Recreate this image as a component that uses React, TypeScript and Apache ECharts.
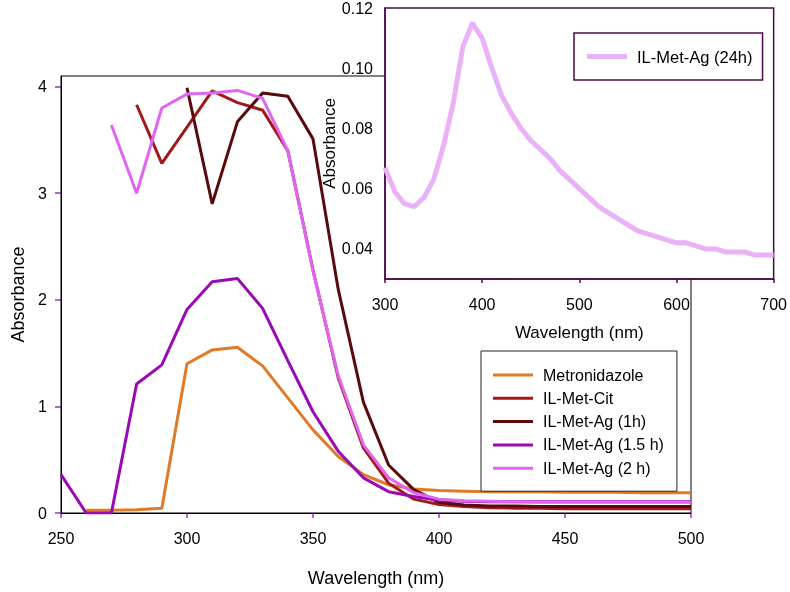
import React, { useEffect, useRef } from "react";
import * as echarts from "echarts";

// Main chart: wavelength (nm), 250..500 step 10
const wavelengths = [250, 260, 270, 280, 290, 300, 310, 320, 330, 340, 350, 360, 370, 380, 390, 400, 410, 420, 430, 440, 450, 460, 470, 480, 490, 500];

const metronidazole = [null, 0.025, 0.025, 0.03, 0.045, 1.40, 1.53, 1.555, 1.38, 1.08, 0.78, 0.53, 0.36, 0.265, 0.225, 0.21, 0.205, 0.2, 0.2, 0.2, 0.195, 0.195, 0.195, 0.19, 0.19, 0.19];
const ilMetCit = [null, null, null, 3.83, 3.28, 3.62, 3.96, 3.85, 3.78, 3.40, 2.28, 1.27, 0.61, 0.28, 0.13, 0.08, 0.06, 0.05, 0.045, 0.045, 0.04, 0.04, 0.04, 0.04, 0.04, 0.04];
const ilMetAg1h = [null, null, null, null, null, 3.99, 2.90, 3.67, 3.94, 3.91, 3.51, 2.10, 1.04, 0.45, 0.22, 0.10, 0.075, 0.065, 0.065, 0.06, 0.06, 0.06, 0.06, 0.06, 0.06, 0.06];
const ilMetAg15h = [0.36, 0, 0, 1.21, 1.39, 1.91, 2.17, 2.20, 1.92, 1.43, 0.95, 0.58, 0.33, 0.20, 0.155, 0.12, 0.11, 0.105, 0.105, 0.105, 0.105, 0.105, 0.105, 0.105, 0.105, 0.105];
const ilMetAg2h = [null, null, 3.64, 3.00, 3.80, 3.93, 3.94, 3.965, 3.89, 3.40, 2.27, 1.29, 0.64, 0.33, 0.19, 0.13, 0.115, 0.11, 0.105, 0.1, 0.1, 0.1, 0.1, 0.1, 0.1, 0.1];

const mainNames = ["Metronidazole", "IL-Met-Cit", "IL-Met-Ag (1h)", "IL-Met-Ag (1.5 h)", "IL-Met-Ag (2 h)"];
const mainColors = ["#E07A26", "#A01A1C", "#5A0A0C", "#9A0AB4", "#E066F2"];
const mainSeries = [metronidazole, ilMetCit, ilMetAg1h, ilMetAg15h, ilMetAg2h];
const mainYTicks = [0, 1, 2, 3, 4];

// Inset: 24 h, 300..700 step 10
const insetWavelengths = [300, 310, 320, 330, 340, 350, 360, 370, 380, 390, 400, 410, 420, 430, 440, 450, 460, 470, 480, 490, 500, 510, 520, 530, 540, 550, 560, 570, 580, 590, 600, 610, 620, 630, 640, 650, 660, 670, 680, 690, 700];
const ilMetAg24h = [0.067, 0.059, 0.055, 0.054, 0.057, 0.063, 0.074, 0.088, 0.107, 0.115, 0.110, 0.100, 0.091, 0.085, 0.080, 0.076, 0.073, 0.070, 0.066, 0.063, 0.060, 0.057, 0.054, 0.052, 0.050, 0.048, 0.046, 0.045, 0.044, 0.043, 0.042, 0.042, 0.041, 0.040, 0.040, 0.039, 0.039, 0.039, 0.038, 0.038, 0.038];
const insetName = "IL-Met-Ag (24h)";
const insetColor = "#E9B2F7";
const insetYTicks = [0.04, 0.06, 0.08, 0.10, 0.12];

const FONT = "'Liberation Sans', Arial, sans-serif";
const TICK_PURPLE = "#A030C8";
const INSET_FRAME = "#4A0A4C";

export default function App() {
  const ref = useRef<HTMLDivElement>(null);
  useEffect(() => {
    if (!ref.current) return;
    const chart = echarts.init(ref.current, undefined, { renderer: "svg" });

    const series: any[] = mainSeries.map((vals, i) => ({
      name: mainNames[i],
      type: "line",
      xAxisIndex: 0,
      yAxisIndex: 0,
      data: wavelengths.map((w, j) => [w, vals[j]]),
      showSymbol: false,
      symbol: "none",
      connectNulls: false,
      lineStyle: { color: mainColors[i], width: 3 },
      itemStyle: { color: mainColors[i] },
      z: 2,
    }));
    series.push({
      name: insetName,
      type: "line",
      xAxisIndex: 1,
      yAxisIndex: 1,
      data: insetWavelengths.map((w, j) => [w, ilMetAg24h[j]]),
      showSymbol: false,
      symbol: "none",
      lineStyle: { color: insetColor, width: 5 },
      itemStyle: { color: insetColor },
      z: 10,
    });

    chart.setOption({
      animation: false,
      textStyle: { fontFamily: FONT },
      grid: [
        { left: 61, right: 99, top: 76, bottom: 77, show: true, borderColor: "#000", borderWidth: 1, backgroundColor: "transparent", z: 1 },
        { left: 385, right: 16, top: 8, bottom: 313, show: true, borderColor: INSET_FRAME, borderWidth: 1.5, backgroundColor: "#fff", z: 5 },
      ],
      xAxis: [
        {
          gridIndex: 0, type: "value", min: 250, max: 500, interval: 50,
          name: "Wavelength (nm)", nameLocation: "middle", nameGap: 56,
          nameTextStyle: { fontSize: 18, color: "#000", fontFamily: FONT },
          axisLine: { show: true, onZero: false, lineStyle: { color: "#000", width: 1 } },
          axisTick: { show: true, inside: false, length: 5, lineStyle: { color: TICK_PURPLE, width: 1.5 } },
          axisLabel: { fontSize: 16, color: "#000", margin: 17, fontFamily: FONT },
          splitLine: { show: false },
        },
        {
          gridIndex: 1, type: "value", min: 300, max: 700, interval: 100,
          name: "Wavelength (nm)", nameLocation: "middle", nameGap: 45,
          nameTextStyle: { fontSize: 17, color: "#000", fontFamily: FONT },
          axisLine: { show: true, onZero: false, lineStyle: { color: INSET_FRAME, width: 1.5 } },
          axisTick: { show: true, inside: false, length: 4, lineStyle: { color: INSET_FRAME, width: 1.5 } },
          axisLabel: { fontSize: 16, color: "#000", margin: 17, fontFamily: FONT },
          splitLine: { show: false },
          z: 6,
        },
      ],
      yAxis: [
        {
          gridIndex: 0, type: "value", min: 0, max: 4.1, interval: 1,
          name: "Absorbance", nameLocation: "middle", nameGap: 34,
          nameTextStyle: { fontSize: 18, color: "#000", fontFamily: FONT },
          axisLine: { show: true, onZero: false, lineStyle: { color: "#000", width: 1 } },
          axisTick: { show: true, inside: false, length: 6, lineStyle: { color: TICK_PURPLE, width: 1.5 }, customValues: mainYTicks },
          axisLabel: {
            fontSize: 16, color: "#000", margin: 14, fontFamily: FONT,
            customValues: mainYTicks,
            formatter: (v: number) => (Math.abs(v - Math.round(v)) < 1e-6 ? String(Math.round(v)) : ""),
          },
          splitLine: { show: false },
        },
        {
          gridIndex: 1, type: "value", min: 0.03, max: 0.12, interval: 0.01,
          name: "Absorbance", nameLocation: "middle", nameGap: 46,
          nameTextStyle: { fontSize: 17, color: "#000", fontFamily: FONT },
          axisLine: { show: true, onZero: false, lineStyle: { color: INSET_FRAME, width: 1.5 } },
          axisTick: { show: false, customValues: insetYTicks },
          axisLabel: {
            fontSize: 16, color: "#000", margin: 12, fontFamily: FONT,
            customValues: insetYTicks,
            formatter: (v: number) => (Math.round(v * 100) % 2 === 0 ? v.toFixed(2) : ""),
          },
          splitLine: { show: false },
          z: 6,
        },
      ],
      legend: [
        {
          data: mainNames,
          orient: "vertical",
          left: 481, top: 351,
          padding: [16, 13, 15, 12],
          icon: "rect",
          itemWidth: 40, itemHeight: 3, itemGap: 7.3,
          borderColor: "#222", borderWidth: 1, backgroundColor: "#fff",
          textStyle: { fontSize: 16, color: "#000", fontFamily: FONT, lineHeight: 16, padding: [0, 0, 0, 5] },
          z: 8,
        },
        {
          data: [insetName],
          orient: "vertical",
          left: 574, top: 33,
          padding: [15, 10, 15, 13],
          icon: "rect",
          itemWidth: 40, itemHeight: 5,
          borderColor: INSET_FRAME, borderWidth: 1.5, backgroundColor: "#fff",
          textStyle: { fontSize: 16.5, color: "#000", fontFamily: FONT, lineHeight: 16, padding: [0, 0, 0, 5] },
          z: 12,
        },
      ],
      series,
    });
    return () => chart.dispose();
  }, []);
  return <div ref={ref} style={{ position: "fixed", left: 0, top: 0, width: 790, height: 592 }} />;
}
